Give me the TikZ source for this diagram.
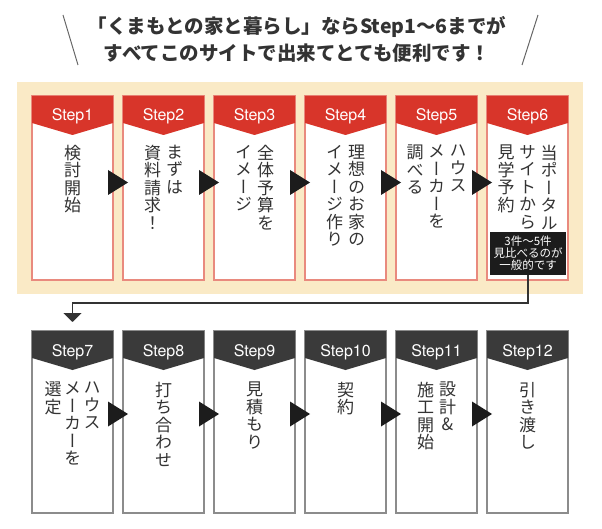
\documentclass[tikz,border=0pt]{standalone}
\usepackage{fontspec}
\setmainfont{Noto Sans CJK JP}
\newfontfamily\tatefont[RawFeature=+vert]{Noto Sans CJK JP}
\newfontfamily\headfont{TeX Gyre Heros}
\usetikzlibrary{arrows.meta}
\definecolor{ink}{HTML}{333333}
\definecolor{slash}{HTML}{666666}
\definecolor{panelfill}{HTML}{FAEAC6}
\definecolor{redhead}{HTML}{D8352A}
\definecolor{rededge}{HTML}{E98A7E}
\definecolor{darkhead}{HTML}{3A3A3A}
\definecolor{darkedge}{HTML}{8C8C8C}
\definecolor{markink}{HTML}{1C1C1C}
\tikzset{
  titleline/.style={anchor=base,font=\fontsize{19.5bp}{22bp}\selectfont\bfseries,text=ink},
  headlabel/.style={anchor=base,font=\headfont\fontsize{16bp}{18bp}\selectfont,text=white},
  tate/.style={anchor=north,align=center,font=\tatefont\fontsize{17bp}{17.5bp}\selectfont,text=ink},
  panel/.style={fill=panelfill,draw=none},
  redbox/.style={fill=white,draw=rededge,line width=1.2bp,minimum width=81bp,minimum height=184bp},
  darkbox/.style={fill=white,draw=darkedge,line width=1.2bp,minimum width=81bp,minimum height=182bp},
  notebox/.style={fill=markink,text=white,align=center,minimum width=76bp,minimum height=43bp,font=\fontsize{11.5bp}{12bp}\selectfont},
  markfill/.style={fill=markink},
  flow/.style={draw=ink,line width=1.3bp,-{Triangle[length=9bp,width=18bp]}}
}
\newcommand\stephead[3]{%
  \fill[#2] (#1.north west) -- (#1.north east) -- ([yshift=-27bp]#1.north east)
    -- ([yshift=-39bp]#1.north) -- ([yshift=-27bp]#1.north west) -- cycle;
  \node[headlabel] (#1-label) at ([yshift=-25bp]#1.north) {#3};}
\newcommand\nextmark[2]{%
  \fill[markfill] ([shift={(-5bp,#2)}]#1.east) -- ++(20bp,-12.5bp) -- ++(-20bp,-12.5bp) -- cycle;}
\begin{document}
\begin{tikzpicture}[x=1bp,y=-1bp,every node/.style={inner sep=0pt,outer sep=0pt}]
\path[use as bounding box] (0,0) rectangle (602,529);

\draw[slash,line width=1bp] (63,15) -- (78,65);
\draw[slash,line width=1bp] (538,15) -- (522,65);
\node[titleline] (title-1) at (297,34) {「くまもとの家と暮らし」ならStep1〜6までが};
\node[titleline] (title-2) at (297,61) {すべてこのサイトで出来てとても便利です！};

\fill[panel] (17,82) rectangle (583,294);

\node[redbox] (s1) at (72.5,188) {};
\node[redbox] (s2) at (163.5,188) {};
\node[redbox] (s3) at (254.5,188) {};
\node[redbox] (s4) at (345.5,188) {};
\node[redbox] (s5) at (436.5,188) {};
\node[redbox] (s6) at (527.5,188) {};
\stephead{s1}{redhead}{Step1}
\stephead{s2}{redhead}{Step2}
\stephead{s3}{redhead}{Step3}
\stephead{s4}{redhead}{Step4}
\stephead{s5}{redhead}{Step5}
\stephead{s6}{redhead}{Step6}

\node[tate] (s1-col1) at (72.5,145) {検\\討\\開\\始};
\node[tate] (s2-col1) at (174.5,145) {ま\\ず\\は};
\node[tate] (s2-col2) at (152.5,145) {資\\料\\請\\求\\！};
\node[tate] (s3-col1) at (265.5,145) {全\\体\\予\\算\\を};
\node[tate] (s3-col2) at (243.5,145) {イ\\メ\\ー\\ジ};
\node[tate] (s4-col1) at (356.5,145) {理\\想\\の\\お\\家\\の};
\node[tate] (s4-col2) at (334.5,145) {イ\\メ\\ー\\ジ\\作\\り};
\node[tate] (s5-col1) at (458,145) {ハ\\ウ\\ス};
\node[tate] (s5-col2) at (436.5,145) {メ\\ー\\カ\\ー\\を};
\node[tate] (s5-col3) at (415,145) {調\\べ\\る};
\node[tate] (s6-col1) at (549,145) {当\\ポ\\ー\\タ\\ル};
\node[tate] (s6-col2) at (527.5,145) {サ\\イ\\ト\\か\\ら};
\node[tate] (s6-col3) at (506,145) {見\\学\\予\\約};
\node[notebox] (s6-note) at (528,253.5) {3件〜5件\\見比べるのが\\一般的です};

\nextmark{s1}{18bp}
\nextmark{s2}{18bp}
\nextmark{s3}{18bp}
\nextmark{s4}{18bp}
\nextmark{s5}{18bp}

\node[darkbox] (s7) at (72.5,422) {};
\node[darkbox] (s8) at (163.5,422) {};
\node[darkbox] (s9) at (254.5,422) {};
\node[darkbox] (s10) at (345.5,422) {};
\node[darkbox] (s11) at (436.5,422) {};
\node[darkbox] (s12) at (527.5,422) {};
\stephead{s7}{darkhead}{Step7}
\stephead{s8}{darkhead}{Step8}
\stephead{s9}{darkhead}{Step9}
\stephead{s10}{darkhead}{Step10}
\stephead{s11}{darkhead}{Step11}
\stephead{s12}{darkhead}{Step12}

\node[tate] (s7-col1) at (92,382) {ハ\\ウ\\ス};
\node[tate] (s7-col2) at (72.5,382) {メ\\ー\\カ\\ー\\を};
\node[tate] (s7-col3) at (53,382) {選\\定};
\node[tate] (s8-col1) at (163.5,382) {打\\ち\\合\\わ\\せ};
\node[tate] (s9-col1) at (254.5,382) {見\\積\\も\\り};
\node[tate] (s10-col1) at (345.5,382) {契\\約};
\node[tate] (s11-col1) at (447.5,382) {設\\計\\\&};
\node[tate] (s11-col2) at (425.5,382) {施\\工\\開\\始};
\node[tate] (s12-col1) at (527.5,382) {引\\き\\渡\\し};

\nextmark{s7}{20.5bp}
\nextmark{s8}{20.5bp}
\nextmark{s9}{20.5bp}
\nextmark{s10}{20.5bp}
\nextmark{s11}{20.5bp}

\coordinate (s6-turn) at (528,303);
\draw[flow] (s6-note.south) -- (s6-turn) -| ([yshift=9bp]s7.north);
\end{tikzpicture}
\end{document}
